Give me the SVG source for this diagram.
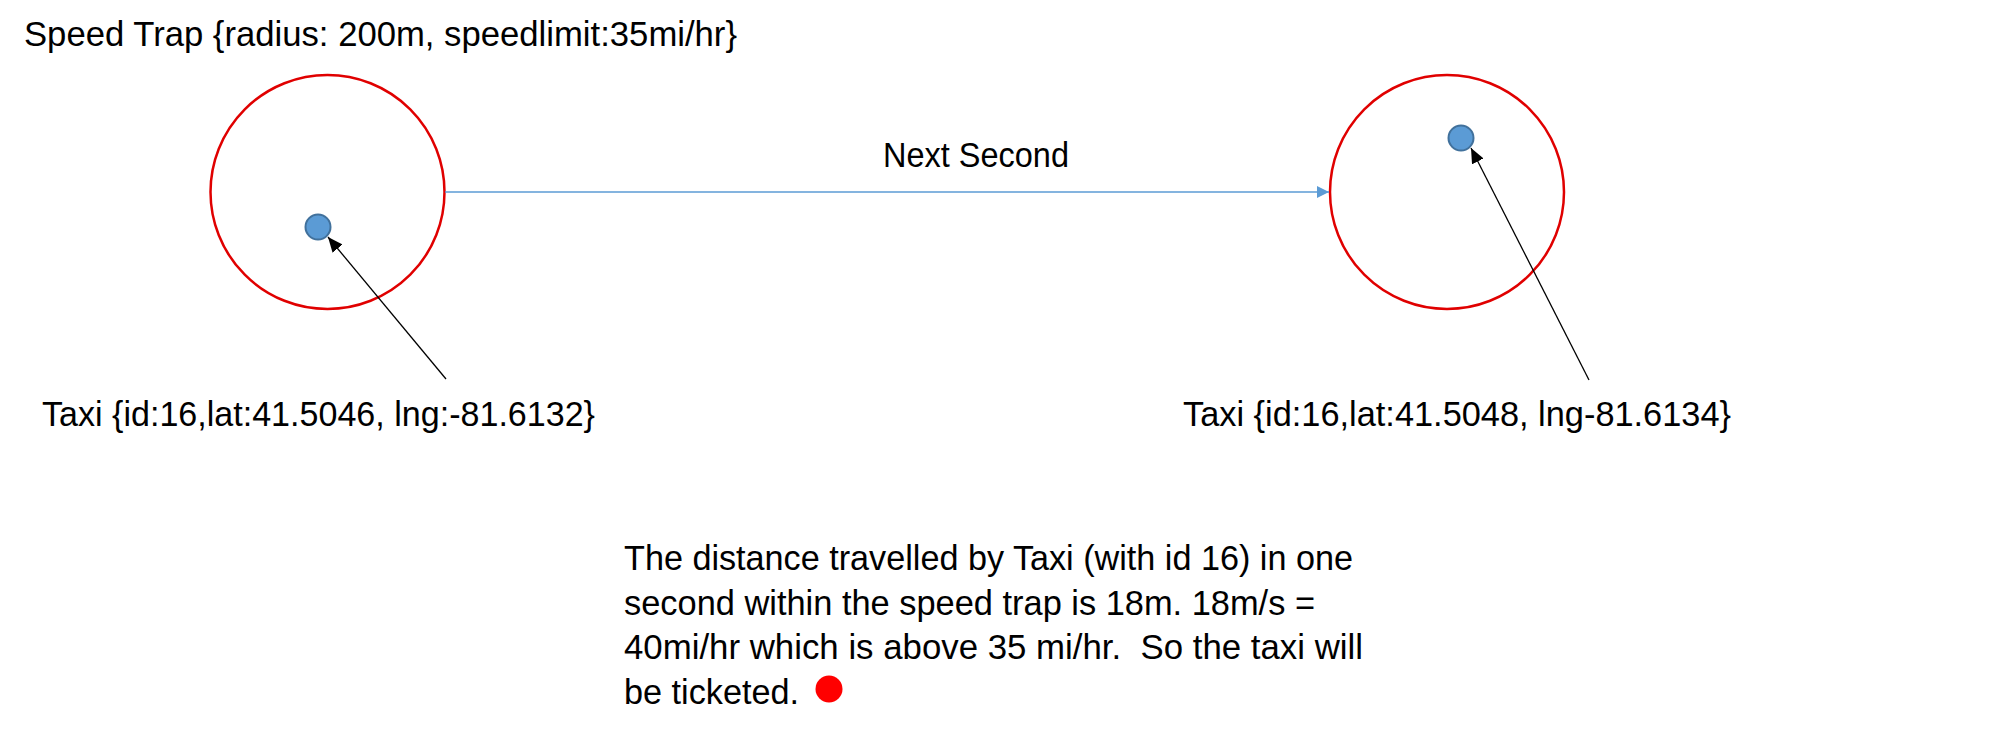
<svg xmlns="http://www.w3.org/2000/svg" width="2009" height="738" viewBox="0 0 2009 738">
<style>
text{font-family:"Liberation Sans",Arial,sans-serif;font-size:34.5px;fill:#000;white-space:pre}
.trap{fill:none;stroke:#E00000;stroke-width:2.5}
.taxi{fill:#5B9BD5;stroke:#41719C;stroke-width:2}
.blue{stroke:#5B9BD5;stroke-width:1.4;fill:none}
.blk{stroke:#000;stroke-width:1.3;fill:none}
</style>
<defs>
<marker id="ab" markerUnits="userSpaceOnUse" markerWidth="13" markerHeight="13" refX="12" refY="6" orient="auto"><path d="M0,0 L12,6 L0,12 z" fill="#5B9BD5"/></marker>
<marker id="ak" markerUnits="userSpaceOnUse" markerWidth="16" markerHeight="14" refX="15" refY="6.5" orient="auto"><path d="M0,0 L15,6.5 L0,13 z" fill="#000"/></marker>
</defs>
<rect width="2009" height="738" fill="#fff"/>
<g id="title"><text x="24" y="46" textLength="713" lengthAdjust="spacingAndGlyphs">Speed Trap {radius: 200m, speedlimit:35mi/hr}</text></g>
<g id="trap1"><circle class="trap" cx="327.5" cy="192" r="117"/></g>
<g id="trap2"><circle class="trap" cx="1447" cy="192" r="117"/></g>
<g id="taxi1"><circle class="taxi" cx="318" cy="227" r="12.5"/></g>
<g id="taxi2"><circle class="taxi" cx="1461" cy="138" r="12.5"/></g>
<g id="label1"><text x="42" y="426" textLength="553" lengthAdjust="spacingAndGlyphs">Taxi {id:16,lat:41.5046, lng:-81.6132}</text></g>
<g id="label2"><text x="1183" y="426" textLength="548" lengthAdjust="spacingAndGlyphs">Taxi {id:16,lat:41.5048, lng-81.6134}</text></g>
<g id="next"><text x="883" y="167" textLength="186" lengthAdjust="spacingAndGlyphs">Next Second</text></g>
<g id="connectors">
<line class="blue" x1="445" y1="192" x2="1329" y2="192" marker-end="url(#ab)"/>
<line class="blk" x1="446" y1="379" x2="328" y2="237" marker-end="url(#ak)"/>
<line class="blk" x1="1589" y1="380" x2="1471" y2="148" marker-end="url(#ak)"/>
</g>
<g id="note">
<text x="624" y="570" textLength="729" lengthAdjust="spacingAndGlyphs">The distance travelled by Taxi (with id 16) in one</text>
<text x="624" y="614.5" textLength="691" lengthAdjust="spacingAndGlyphs">second within the speed trap is 18m. 18m/s =</text>
<text x="624" y="659" textLength="739" lengthAdjust="spacingAndGlyphs">40mi/hr which is above 35 mi/hr.  So the taxi will</text>
<text x="624" y="703.5" textLength="175" lengthAdjust="spacingAndGlyphs">be ticketed.</text>
<circle cx="829" cy="689" r="13.5" fill="#FF0000"/>
</g>
</svg>
